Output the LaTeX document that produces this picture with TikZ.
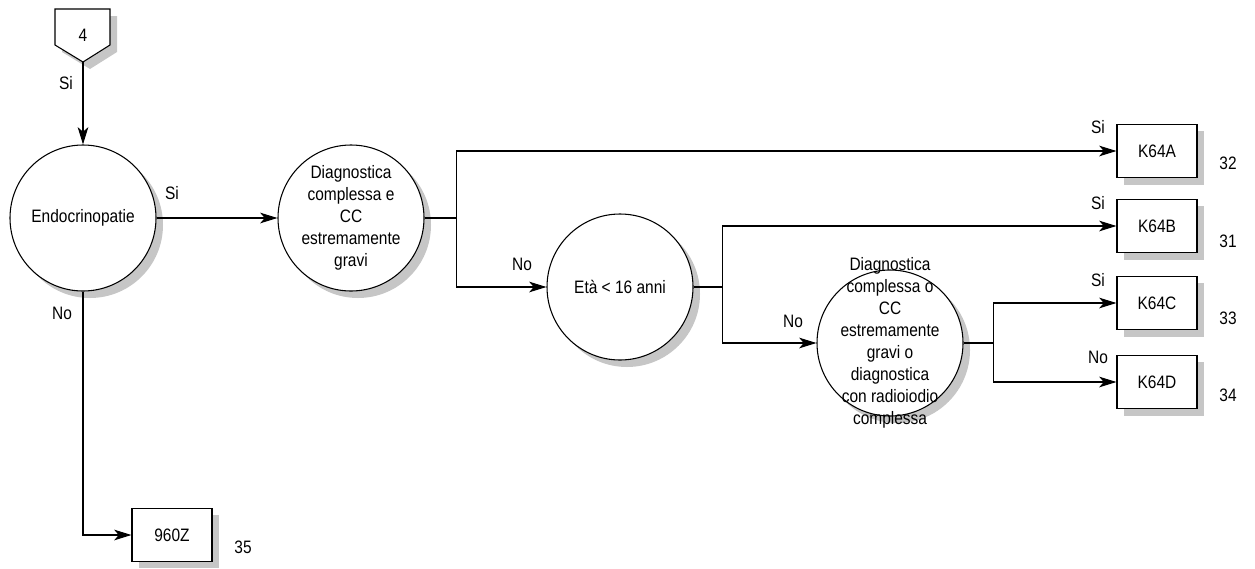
\documentclass[tikz,border=0pt]{standalone}
\usepackage{fontspec}
\setmainfont{Liberation Sans}[FakeStretch=0.86]
\usetikzlibrary{positioning, arrows.meta}
\newcommand{\drgfont}{\fontsize{13.5}{16.5}\selectfont}
\tikzset{
  drgbox/.style    = {draw, fill=white, minimum width=60pt, minimum height=39.75pt,
                      inner sep=1pt, line width=0.8pt},
  drgdec/.style    = {draw, circle, fill=white, minimum size=109.5pt,
                      inner sep=0pt, line width=0.8pt},
  drgtxt/.style    = {align=center, inner sep=0pt},
  drgline/.style   = {line width=0.8pt},
  drgarrow/.style  = {drgline, -{Stealth[length=13pt,width=8pt,inset=3.5pt]}},
  drglbl/.style    = {inner sep=1pt},
  drgshadow/.style = {fill=gray!45}
}

\begin{document}
\begin{tikzpicture}[x=0.75pt, y=-0.75pt, font=\drgfont]
  \useasboundingbox (0,0) rectangle (1255,568);

  % shadows
  \fill[drgshadow] (62,16) -- (117,16) -- (117,52) -- (90,69) -- (62,52) -- cycle;
  \foreach \cx/\cy in {90/225, 358/225, 627/294, 897/350}
    \fill[drgshadow] (\cx,\cy) circle (73);
  \foreach \cy in {131, 206, 283, 362}
    \fill[drgshadow] (1124,\cy) rectangle ++(80,54);
  \fill[drgshadow] (139,515) rectangle ++(80,53);

  % entry connector
  \draw[drgline, fill=white]
    (55,9) -- (110,9) -- (110,45) -- (83,62) -- (55,45) -- cycle;
  \node[drglbl] (p4) at (83,35) {4};
  \coordinate (p4tip) at (83,62);

  % decisions
  \node[drgdec, label={[drgtxt]center:Endocrinopatie}] (dec1) at (83,218) {};
  \node[drgdec, label={[drgtxt]center:Diagnostica\\complessa e\\CC\\estremamente\\gravi}]
        (dec2) at (351,218) {};
  \node[drgdec, label={[drgtxt]center:Età < 16 anni}] (dec3) at (620,287) {};
  \node[drgdec, label={[drgtxt]center:Diagnostica\\complessa o\\CC\\estremamente\\gravi o\\diagnostica\\con radioiodio\\complessa}]
        (dec4) at (890,343) {};

  % outcomes
  \node[drgbox] (kA)   at (1157,151) {K64A};
  \node[drgbox] (kB)   at (1157,226) {K64B};
  \node[drgbox] (kC)   at (1157,303) {K64C};
  \node[drgbox] (kD)   at (1157,382) {K64D};
  \node[drgbox] (k960) at (172,535)  {960Z};

  \node[drglbl] (nA)   at (1228,163) {32};
  \node[drglbl] (nB)   at (1228,241) {31};
  \node[drglbl] (nC)   at (1228,318) {33};
  \node[drglbl] (nD)   at (1228,395) {34};
  \node[drglbl] (n960) at (243,547)  {35};

  % connectors
  \draw[drgarrow] (p4tip) -- (dec1.north);
  \draw[drgarrow] (dec1.east) -- (dec2.west);
  \draw[drgarrow] (dec1.south) |- (k960.west);

  \draw[drgline] (dec2.east) -- ++(32,0) coordinate (j1);
  \draw[drgarrow] (j1) |- (kA.west);
  \draw[drgarrow] (j1) |- (dec3.west);

  \draw[drgline] (dec3.east) -- ++(29,0) coordinate (j2);
  \draw[drgarrow] (j2) |- (kB.west);
  \draw[drgarrow] (j2) |- (dec4.west);

  \draw[drgline] (dec4.east) -- ++(30,0) coordinate (j3);
  \draw[drgarrow] (j3) |- (kC.west);
  \draw[drgarrow] (j3) |- (kD.west);

  % branch labels
  \node[drglbl] (l1) at (66,83)    {Si};
  \node[drglbl] (l2) at (172,193)  {Si};
  \node[drglbl] (l3) at (62,313)   {No};
  \node[drglbl] (l4) at (522,264)  {No};
  \node[drglbl] (l5) at (1098,127) {Si};
  \node[drglbl] (l6) at (1098,203) {Si};
  \node[drglbl] (l7) at (793,321)  {No};
  \node[drglbl] (l8) at (1098,280) {Si};
  \node[drglbl] (l9) at (1098,357) {No};
\end{tikzpicture}
\end{document}
